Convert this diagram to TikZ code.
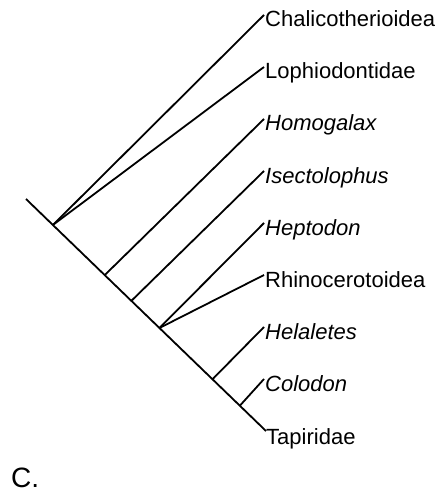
\documentclass[tikz,border=0pt]{standalone}
\usepackage{fontspec}
\setmainfont{Liberation Sans}
\usetikzlibrary{calc}
\begin{document}
\begin{tikzpicture}[x=1pt,y=-1pt,
  branch/.style={line width=1.8pt, line cap=butt},
  taxon/.style={anchor=base west, inner sep=0pt, font=\fontsize{22}{26}\selectfont},
  panel/.style={anchor=base west, inner sep=0pt, font=\fontsize{28}{32}\selectfont}]
\useasboundingbox (0,0) rectangle (436,494);
% root and end of backbone
\coordinate (root) at (26,199);
\coordinate (tTap) at (266,431);
% tips
\coordinate (tCha) at (264,15);
\coordinate (tLop) at (264,67);
\coordinate (tHom) at (264,119);
\coordinate (tIse) at (264,171);
\coordinate (tHep) at (264,223);
\coordinate (tRhi) at (264,275);
\coordinate (tHel) at (264,327);
\coordinate (tCol) at (264,379);
% internal nodes on the backbone
\coordinate (n1) at ($(root)!0.112!(tTap)$);
\coordinate (n2) at ($(root)!0.328!(tTap)$);
\coordinate (n3) at ($(root)!0.439!(tTap)$);
\coordinate (n4) at ($(root)!0.556!(tTap)$);
\coordinate (n5) at ($(root)!0.777!(tTap)$);
\coordinate (n6) at ($(root)!0.891!(tTap)$);
% branches
\draw[branch] (root) -- (tTap);
\draw[branch] (n1) -- (tCha);
\draw[branch] (n1) -- (tLop);
\draw[branch] (n2) -- (tHom);
\draw[branch] (n3) -- (tIse);
\draw[branch] (n4) -- (tHep);
\draw[branch] (n4) -- (tRhi);
\draw[branch] (n5) -- (tHel);
\draw[branch] (n6) -- (tCol);
% labels
\node[taxon] (lCha) at (265,27) {Chalicotherioidea};
\node[taxon] (lLop) at (265,79) {Lophiodontidae};
\node[taxon] (lHom) at (265,131) {\itshape Homogalax};
\node[taxon] (lIse) at (265,183) {\itshape Isectolophus};
\node[taxon] (lHep) at (265,235) {\itshape Heptodon};
\node[taxon] (lRhi) at (265,287) {Rhinocerotoidea};
\node[taxon] (lHel) at (265,339) {\itshape Helaletes};
\node[taxon] (lCol) at (265,391) {\itshape Colodon};
\node[taxon] (lTap) at (266,444) {Tapiridae};
\node[panel] (lC) at (11,487) {C.};
\end{tikzpicture}
\end{document}
